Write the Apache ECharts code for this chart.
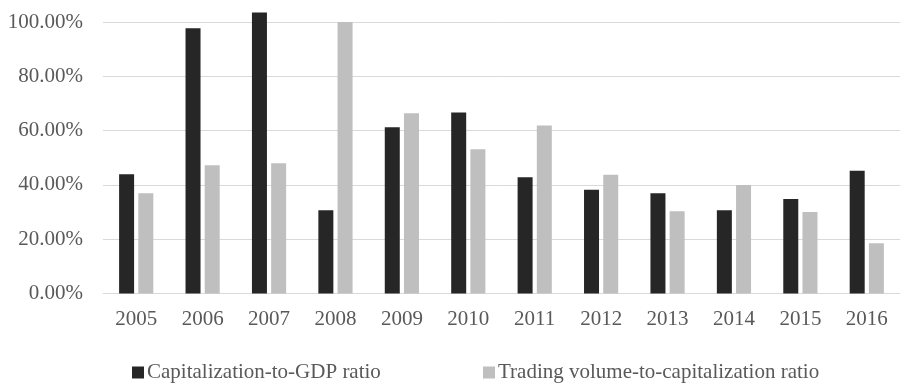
<!DOCTYPE html>
<html>
<head>
<meta charset="utf-8">
<script src="https://cdn.jsdelivr.net/npm/echarts@6/dist/echarts.min.js"></script>
<style>
  html, body { margin: 0; padding: 0; background: #ffffff; }
  #chart { width: 901px; height: 384px; }
</style>
</head>
<body>
<div id="chart"></div>
<script>
// Years on the category axis
const years = ['2005', '2006', '2007', '2008', '2009', '2010', '2011', '2012', '2013', '2014', '2015', '2016'];

// Ratios in percent
const capToGdp = [43.9, 97.7, 103.5, 30.7, 61.2, 66.7, 42.8, 38.2, 36.9, 30.7, 34.8, 45.2];
const volumeToCap = [36.9, 47.2, 48.0, 100.0, 66.4, 53.1, 61.9, 43.7, 30.3, 40.0, 30.0, 18.5];

const seriesNames = ['Capitalization-to-GDP ratio', 'Trading volume-to-capitalization ratio'];

const FONT = '"Liberation Serif", "Times New Roman", serif';

const chart = echarts.init(document.getElementById('chart'), null, { renderer: 'canvas' });

chart.setOption({
  animation: false,
  backgroundColor: '#ffffff',
  grid: { left: 103, right: 1, top: 22, bottom: 90.5, containLabel: false },
  legend: [
    {
      data: [seriesNames[0]],
      left: 127, top: 357,
      itemWidth: 12, itemHeight: 12, itemGap: 3,
      icon: 'rect',
      textStyle: { fontFamily: FONT, fontSize: 21, color: '#595959', padding: [0, 0, 0, -2] }
    },
    {
      data: [seriesNames[1]],
      left: 478, top: 357,
      itemWidth: 12, itemHeight: 12, itemGap: 3,
      icon: 'rect',
      textStyle: { fontFamily: FONT, fontSize: 21, color: '#595959', padding: [0, 0, 0, -2] }
    }
  ],
  xAxis: {
    type: 'category',
    data: years,
    axisLine: { show: true, lineStyle: { color: '#d9d9d9', width: 1 } },
    axisTick: { show: false },
    axisLabel: { fontFamily: FONT, fontSize: 21, color: '#595959', margin: 15 }
  },
  yAxis: {
    type: 'value',
    min: 0, max: 100, interval: 20,
    axisLine: { show: false },
    axisTick: { show: false },
    splitLine: { lineStyle: { color: '#d9d9d9', width: 1 } },
    axisLabel: {
      fontFamily: FONT, fontSize: 21, color: '#595959', margin: 20,
      formatter: v => v.toFixed(2) + '%'
    }
  },
  series: [
    {
      name: seriesNames[0],
      type: 'bar',
      data: capToGdp,
      barWidth: 15,
      barGap: '28%',
      clip: false,
      itemStyle: { color: '#262626' }
    },
    {
      name: seriesNames[1],
      type: 'bar',
      data: volumeToCap,
      barWidth: 15,
      barGap: '28%',
      clip: false,
      itemStyle: { color: '#bfbfbf' }
    }
  ]
});
</script>
</body>
</html>
